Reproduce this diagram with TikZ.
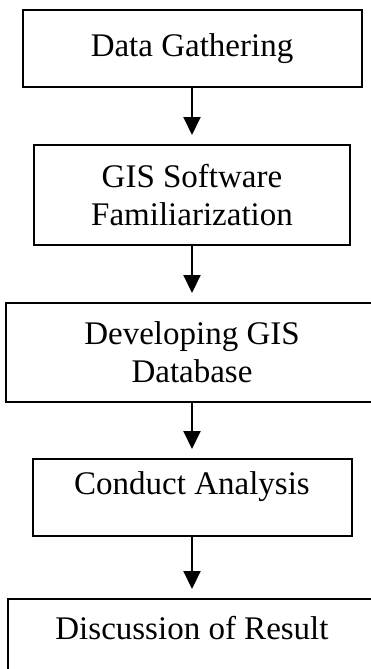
\documentclass[tikz,border=0pt]{standalone}
\usepackage{fontspec}
\setmainfont{Liberation Serif}
\usepackage{tikz}
\usetikzlibrary{positioning, arrows.meta}

\begin{document}
\begin{tikzpicture}[
  font=\fontsize{33}{38}\selectfont,
  node distance=58pt,
  stepbox/.style ={rectangle, draw, line width=2pt, outer sep=0pt,
                   align=center, inner sep=0pt},
  lowtext/.style ={text height=22pt, text depth=28pt},
  flow/.style    ={-{Triangle[width=17pt, length=18pt]}, line width=2pt,
                   shorten >=10pt}
]

% ---------- Page ----------
\useasboundingbox (0pt,0pt) rectangle (370pt,-669pt);

% ---------- Steps ----------
\node[stepbox, minimum width=339pt, minimum height=77pt]
      (gather) at (192pt,-48.5pt) {Data Gathering};
\node[stepbox, minimum width=316pt, minimum height=100pt, below=of gather]
      (learn) {GIS Software\\Familiarization};
\node[stepbox, minimum width=372pt, minimum height=99pt, below=of learn]
      (build) {Developing GIS\\Database};
\node[stepbox, lowtext, minimum width=319pt, minimum height=77pt, below=57pt of build]
      (analyse) {Conduct Analysis};
\node[stepbox, lowtext, minimum width=368pt, minimum height=86pt, below=63pt of analyse]
      (discuss) {Discussion of Result};

% ---------- Arrows ----------
\draw[flow] (gather)  -- (learn);
\draw[flow] (learn)   -- (build);
\draw[flow] (build)   -- (analyse);
\draw[flow] (analyse) -- (discuss);

\end{tikzpicture}
\end{document}
